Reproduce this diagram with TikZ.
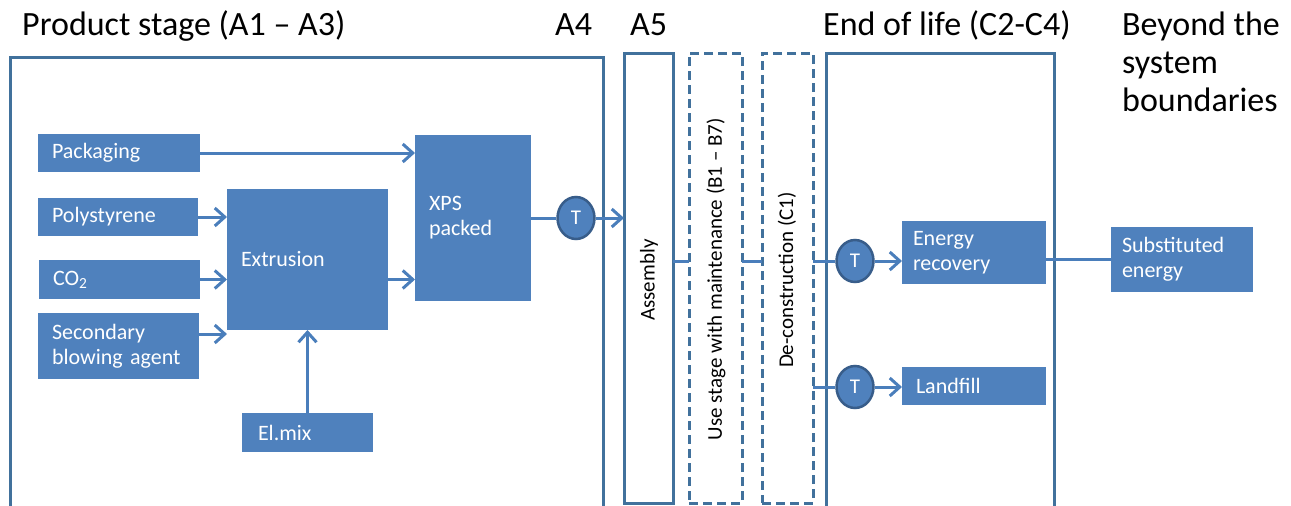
\documentclass[tikz,border=0pt]{standalone}
\usepackage{fontspec}
\setmainfont{Carlito}
\usetikzlibrary{arrows.meta, shapes.geometric}
\definecolor{boxblue}{HTML}{4F81BD}
\definecolor{lineblue}{HTML}{4A7EBB}
\definecolor{ringblue}{HTML}{385D8A}
\definecolor{frameblue}{HTML}{41719C}

\tikzset{
  proc/.style={fill=boxblue, text=white, font=\fontsize{22}{25}\selectfont,
    align=left, anchor=north west, inner xsep=14pt, inner ysep=0pt, outer sep=0pt},
  tnode/.style={ellipse, fill=boxblue, draw=ringblue, line width=2.5pt, text=white,
    font=\fontsize{21}{24}\selectfont, minimum width=37pt, minimum height=42pt, inner sep=0pt},
  stage/.style={draw=frameblue, line width=3pt, anchor=north west, inner sep=0pt, outer sep=0pt},
  dashstage/.style={stage, dash pattern=on 9pt off 5pt},
  frame/.style={frameblue, line width=3pt},
  heading/.style={font=\fontsize{34}{38}\selectfont, anchor=base west, inner sep=0pt, align=left},
  vlabel/.style={rotate=90, font=\fontsize{21}{25}\selectfont, inner sep=0pt},
  flow/.style={lineblue, line width=3pt},
}

\begin{document}
\begin{tikzpicture}[x=1pt, y=-1pt, >={Straight Barb[length=10pt, width=18pt]}]

\useasboundingbox (0,0) rectangle (1291,506);

% Headings
\node[heading] (hprod) at (22,35) {Product stage (A1 – A3)};
\node[heading] (ha4) at (555,35) {A4};
\node[heading] (ha5) at (630,35) {A5};
\node[heading] (heol) at (823,35) {End of life (C2-C4)};
\node[heading] (hbeyond) at (1122,111) {Beyond the\\system\\boundaries};

% --- Stage frames ---
\draw[frame] (10,508) -- (10,57) -- (603,57) -- (603,508);
\draw[frame] (826,508) -- (826,53) -- (1054,53) -- (1054,508);
\node[stage, minimum width=49pt, minimum height=450pt] (asm) at (624,53) {};
\node[dashstage, minimum width=53pt, minimum height=450pt] (use) at (689,53) {};
\node[dashstage, minimum width=51pt, minimum height=450pt] (decon) at (762,53) {};
\node[vlabel] (asmtext) at (649,280) {Assembly};
\node[vlabel] (usetext) at (716,279) {Use stage with maintenance (B1 – B7)};
\node[vlabel] (decontext) at (787,280) {De-construction (C1)};

% --- Product stage boxes ---
\node[proc, text width=134pt, minimum height=38pt] (pack) at (38,134) {Packaging};
\node[proc, text width=132pt, minimum height=38pt] (poly) at (38,198) {Polystyrene};
\node[proc, text width=133pt, minimum height=39pt] (co2) at (39,260) {CO\textsubscript{2}};
\node[proc, text width=133pt, minimum height=66pt] (sec) at (38,313) {Secondary\\blowing agent};
\node[proc, text width=133pt, minimum height=141pt] (extr) at (227,189) {Extrusion};
\node[proc, inner xsep=16pt, text width=99pt, minimum height=39pt] (elmix) at (242,413) {El.mix};
\node[proc, text width=88pt, minimum height=166pt] (xps) at (415,135) {XPS\\packed};

% --- End of life boxes ---
\node[proc, inner xsep=11pt, text width=122pt, minimum height=63pt] (enrec) at (902,221) {Energy\\recovery};
\node[proc, text width=116pt, minimum height=38pt] (landf) at (902,367) {Landfill};
\node[proc, inner xsep=11pt, text width=120pt, minimum height=65pt] (subst) at (1111,227) {Substituted\\energy};

% Transport
\node[tnode] (t1) at (576,218) {T};
\node[tnode] (te) at (855,261) {T};
\node[tnode] (tl) at (855,387) {T};

% --- Connectors ---
\coordinate (secout) at ([yshift=12pt]sec.east);
\coordinate (extrout) at ([yshift=-20pt]extr.east);
\draw[flow, ->] (pack.east) -- (pack.east -| xps.west);
\draw[flow, ->] (poly.east) -- (poly.east -| extr.west);
\draw[flow, ->] (co2.east) -- (co2.east -| extr.west);
\draw[flow, ->] (secout) -- (secout -| extr.west);
\draw[flow, ->] (elmix.north) -- (extr.south);
\draw[flow, ->] (extrout) -- (extrout -| xps.west);
\draw[flow] (xps.east |- t1) -- (t1.west);
\draw[flow, ->] (t1.east) -- (t1 -| asm.west);
\draw[flow] (asm.east |- te) -- (use.west |- te);
\draw[flow] (use.east |- te) -- (decon.west |- te);
\draw[flow] (decon.east |- te) -- (te.west);
\draw[flow, ->] (te.east) -- (te -| enrec.west);
\draw[flow] (decon.east |- tl) -- (tl.west);
\draw[flow, ->] (tl.east) -- (tl -| landf.west);
\draw[flow] (enrec.east |- subst.west) -- (subst.west);

\end{tikzpicture}
\end{document}
